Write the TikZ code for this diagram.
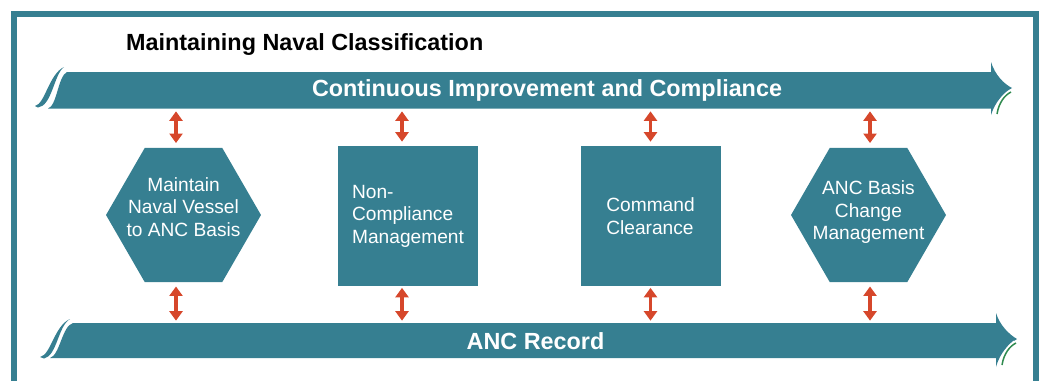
\documentclass[tikz,border=0pt]{standalone}
\usepackage{fontspec}
\setmainfont{Liberation Sans}
\usepackage{tikz}
\usetikzlibrary{shapes.geometric, arrows.meta, positioning}
\definecolor{navteal}{HTML}{367F91}
\definecolor{navred}{HTML}{D6472B}
\definecolor{navgreen}{HTML}{2F8A4F}

\begin{document}
\begin{tikzpicture}[x=0.02cm, y=-0.02cm,
            hexbox/.style={fill=navteal, regular polygon, regular polygon sides=6, minimum size=3.1cm, inner sep=0pt},
            sqbox/.style={fill=navteal, rectangle, minimum size=2.8cm, inner sep=0pt, align=left, text=white, font=\fontsize{10.9}{12.8}\selectfont},
            boxtxt/.style={align=center, text=white, font=\fontsize{10.9}{12.8}\selectfont},
            bandtxt/.style={inner sep=0pt, text=white, font=\fontsize{13.3}{16}\selectfont\bfseries},
            dblarrow/.style={{Triangle[length=0.19cm,width=0.26cm]}-{Triangle[length=0.19cm,width=0.26cm]}, line width=0.065cm, navred},
            accent/.style={navgreen, line width=0.03cm}]

            \useasboundingbox (0,0) rectangle (1043,380);

            % outer frame, open at the bottom
            \draw[navteal, line width=0.12cm] (14,385) -- (14,14) -- (1036,14) -- (1036,385);

            \node[anchor=west, font=\fontsize{13.3}{16}\selectfont\bfseries] (title) at (120,45) {Maintaining Naval Classification};

            % top band
            \fill[navteal] (35,106) .. controls (45,104) and (49,74) .. (64,67)
                .. controls (54,74) and (52,106) .. (38,107.5) -- cycle;
            \fill[navteal] (48,108.5) .. controls (57,106) and (58,76) .. (67,72) -- (991,72) -- (991,62)
                .. controls (995,75) and (1004,84) .. (1012,88)
                .. controls (1004,92) and (995,102) .. (991,115) -- (991,108.5) -- cycle;
            \draw[white, line width=0.02cm] (995,113) .. controls (997,102) and (1003,95) .. (1009,91);
            \draw[accent] (997,114) .. controls (999,102) and (1005,95) .. (1011,92);

            % bottom band
            \fill[navteal] (40,357) .. controls (51,355) and (54,326) .. (70,319)
                .. controls (58,326) and (57,356) .. (44,358.5) -- cycle;
            \fill[navteal] (50,358) .. controls (60,355) and (62,326) .. (73,323) -- (996,323) -- (996,313)
                .. controls (1000,326) and (1010,335) .. (1017,339)
                .. controls (1010,343) and (1000,352) .. (996,367) -- (996,358) -- cycle;
            \draw[white, line width=0.02cm] (1000,364) .. controls (1002,352) and (1008,346) .. (1014,341);
            \draw[accent] (1002,365) .. controls (1004,353) and (1010,346) .. (1016,343);

            \node[bandtxt, minimum height=0.74cm] (imp) at (547,90.5) {Continuous Improvement and Compliance};
            \node[bandtxt, minimum height=0.70cm] (rec) at (535.5,341.5) {ANC Record};

            % process blocks
            \node[hexbox] (m1) at (183.5,215) {};
            \node[boxtxt] (m1txt) at (183.5,207) {Maintain\\Naval Vessel\\to ANC Basis};
            \node[sqbox] (m2) at (408,216) {Non-\\Compliance\\Management};
            \node[sqbox] (m3) at (650.5,216) {Command\\Clearance};
            \node[hexbox] (m4) at (868.5,215) {};
            \node[boxtxt] (m4txt) at (868.5,212.5) {ANC Basis\\Change\\Management};

            \draw[dblarrow, shorten <=0.04cm, shorten >=0.09cm] ([xshift=-0.15cm]m1.north |- imp.south) -- ([xshift=-0.15cm]m1.north);
            \draw[dblarrow, shorten <=0.04cm, shorten >=0.08cm] ([xshift=-0.12cm]m2.north |- imp.south) -- ([xshift=-0.12cm]m2.north);
            \draw[dblarrow, shorten <=0.04cm, shorten >=0.08cm] (m3.north |- imp.south) -- (m3.north);
            \draw[dblarrow, shorten <=0.04cm, shorten >=0.09cm] ([xshift=0.03cm]m4.north |- imp.south) -- ([xshift=0.03cm]m4.north);

            \draw[dblarrow, shorten <=0.08cm, shorten >=0.06cm] ([xshift=-0.15cm]m1.south) -- ([xshift=-0.15cm]m1.south |- rec.north);
            \draw[dblarrow, shorten <=0.03cm, shorten >=0.06cm] ([xshift=-0.12cm]m2.south) -- ([xshift=-0.12cm]m2.south |- rec.north);
            \draw[dblarrow, shorten <=0.03cm, shorten >=0.06cm] (m3.south) -- (m3.south |- rec.north);
            \draw[dblarrow, shorten <=0.08cm, shorten >=0.06cm] ([xshift=0.03cm]m4.south) -- ([xshift=0.03cm]m4.south |- rec.north);
\end{tikzpicture}
\end{document}
